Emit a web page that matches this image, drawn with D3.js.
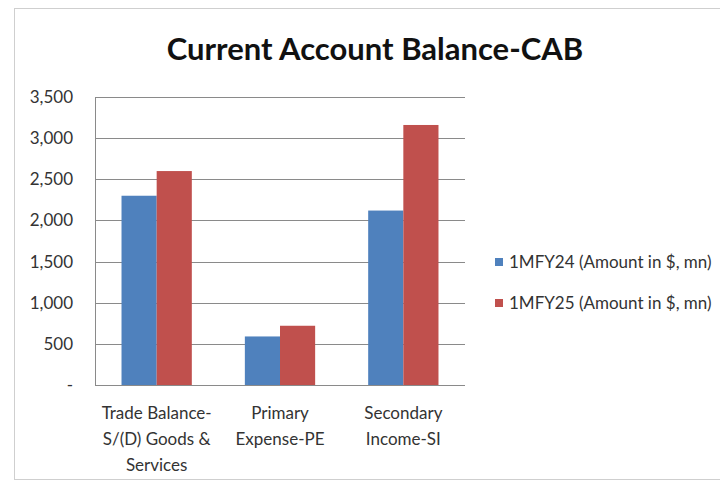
<!DOCTYPE html>
<html>
<head>
<meta charset="utf-8">
<script src="https://cdn.jsdelivr.net/npm/d3@7"></script>
<style>
  body { margin: 0; background: #fff; }
  svg { display: block; font-family: Lato, "Open Sans", sans-serif; }
  .tick text { fill: #333; }
</style>
</head>
<body>
<svg width="720" height="484"></svg>
<script>
  const categories = [
    ['Trade Balance-', 'S/(D) Goods &', 'Services'],
    ['Primary', 'Expense-PE'],
    ['Secondary', 'Income-SI']
  ];
  const seriesNames = ['1MFY24 (Amount in $, mn)', '1MFY25 (Amount in $, mn)'];
  const fy24 = [2300, 590, 2120];
  const fy25 = [2600, 720, 3160];
  const yTicks = [0, 500, 1000, 1500, 2000, 2500, 3000, 3500];
  const colors = ['#4f81bd', '#c0504d'];

  const svg = d3.select('svg');

  // outer chart frame
  svg.append('rect')
    .attr('x', 14.5).attr('y', 8.5)
    .attr('width', 720).attr('height', 471)
    .attr('fill', 'none')
    .attr('stroke', '#cfcfcf');

  const margin = { left: 95, top: 97, right: 465, bottom: 385 };

  const x = d3.scaleBand()
    .domain(d3.range(categories.length))
    .range([margin.left, margin.right])
    .paddingInner(0.43)
    .paddingOuter(0.215);

  const x1 = d3.scaleBand()
    .domain([0, 1])
    .range([0, x.bandwidth()]);

  const y = d3.scaleLinear()
    .domain([0, 3500])
    .range([margin.bottom, margin.top]);

  const fmt = d => d === 0 ? '-' : d3.format(',')(d);

  // gridlines
  svg.append('g')
    .selectAll('line')
    .data(yTicks.filter(d => d > 0))
    .join('line')
    .attr('x1', margin.left).attr('x2', margin.right)
    .attr('y1', d => Math.round(y(d)) + 0.5)
    .attr('y2', d => Math.round(y(d)) + 0.5)
    .attr('stroke', '#8a8a8a');

  // bars
  const rows = categories.map((c, i) => [fy24[i], fy25[i]]);
  const groups = svg.append('g')
    .selectAll('g')
    .data(rows)
    .join('g')
    .attr('transform', (d, i) => `translate(${x(i)},0)`);

  groups.selectAll('rect')
    .data(d => d)
    .join('rect')
    .attr('x', (d, j) => x1(j))
    .attr('width', x1.bandwidth())
    .attr('y', d => y(d))
    .attr('height', d => y(0) - y(d))
    .attr('fill', (d, j) => colors[j]);

  // y axis
  const yAxis = svg.append('g')
    .attr('transform', `translate(${margin.left},0)`)
    .call(d3.axisLeft(y).tickValues(yTicks).tickFormat(fmt).tickSize(0).tickPadding(22));
  yAxis.select('.domain').attr('stroke', '#8a8a8a');
  yAxis.selectAll('text')
    .attr('font-size', 17)
    .attr('font-family', 'Lato, sans-serif');

  // x axis line
  svg.append('line')
    .attr('x1', margin.left).attr('x2', margin.right)
    .attr('y1', margin.bottom + 0.5).attr('y2', margin.bottom + 0.5)
    .attr('stroke', '#8a8a8a');

  // category labels
  svg.append('g')
    .selectAll('text')
    .data(categories)
    .join('text')
    .attr('x', (d, i) => x(i) + x.bandwidth() / 2)
    .attr('y', 419)
    .attr('text-anchor', 'middle')
    .attr('font-size', 17)
    .attr('fill', '#333')
    .selectAll('tspan')
    .data(d => d)
    .join('tspan')
    .attr('x', function () { return this.parentNode.getAttribute('x'); })
    .attr('dy', (d, i) => i === 0 ? 0 : 26)
    .text(d => d);

  // title
  svg.append('text')
    .attr('x', 375)
    .attr('y', 60)
    .attr('text-anchor', 'middle')
    .attr('font-size', 31)
    .attr('font-weight', 'bold')
    .attr('fill', '#111')
    .text('Current Account Balance-CAB');

  // legend
  const legend = svg.append('g')
    .attr('transform', 'translate(495,262)')
    .selectAll('g')
    .data(seriesNames)
    .join('g')
    .attr('transform', (d, i) => `translate(0,${i * 41})`);

  legend.append('rect')
    .attr('x', 0).attr('y', -4)
    .attr('width', 8).attr('height', 8)
    .attr('fill', (d, i) => colors[i]);

  legend.append('text')
    .attr('x', 14)
    .attr('dy', '0.35em')
    .attr('font-size', 17)
    .attr('fill', '#333')
    .text(d => d);
</script>
</body>
</html>
